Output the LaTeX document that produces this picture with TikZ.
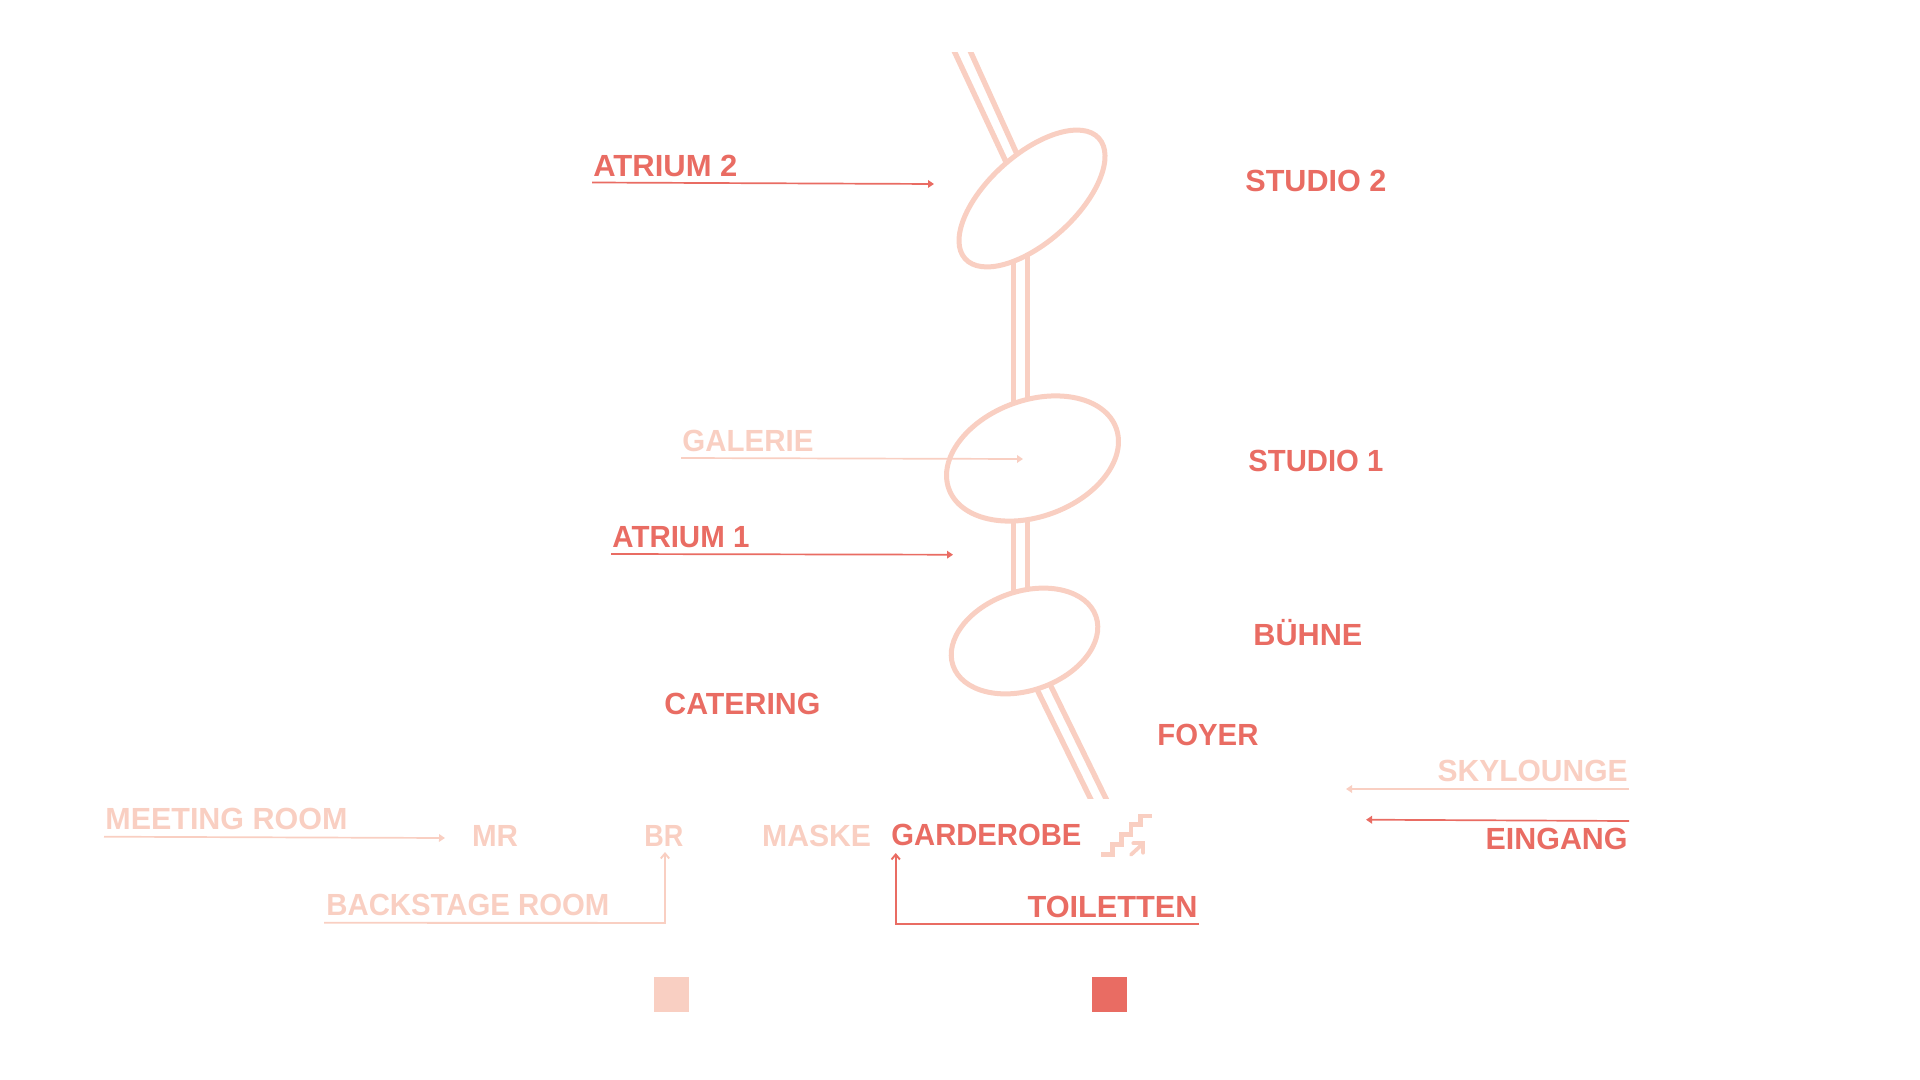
\documentclass[tikz,border=0pt]{standalone}
\usepackage{fontspec}
\setmainfont{Liberation Sans}
\usetikzlibrary{arrows.meta}
\definecolor{lite}{HTML}{F9CFC2}
\definecolor{dark}{HTML}{E96C63}
\newcommand{\fitw}[2]{\resizebox{#1pt}{\height}{#2}}
\tikzset{
  lbl/.style={inner sep=0pt,font=\fontsize{15.3}{18}\selectfont\bfseries},
  lft/.style={lbl,anchor=base west},
  rgt/.style={lbl,anchor=base east},
  rail/.style={lite,line width=2.7pt},
  hub/.style={draw=lite,line width=2.5pt,fill=white},
  lead/.style={line width=0.85pt,-{Triangle[length=3pt,width=3.8pt]}},
  elbow/.style={line width=0.95pt,-{Straight Barb[length=2.5pt,width=4.2pt]}},
  stair/.style={draw=lite,line width=2.4pt},
}
\begin{document}
\begin{tikzpicture}[x=0.5pt,y=-0.5pt]
\useasboundingbox (0,0) rectangle (1920,1080);
% rails
\begin{scope}
\clip (900,52.7) rectangle (1150,798.7);
\draw[rail] (949,40) -- (1010.7,172);
\draw[rail] (965.2,40) -- (1021,163);
\draw[rail] (1013.3,250) -- (1013.3,600);
\draw[rail] (1027.7,250) -- (1027.7,600);
\draw[rail] (1027.5,670) -- (1096,810);
\draw[rail] (1043,670) -- (1111.5,810);
\end{scope}
% hubs
\draw[hub] (1032,198.5) ellipse[x radius=90,y radius=43.7,rotate=42];
\draw[hub] (1032.5,458.5) ellipse[x radius=89,y radius=58.2,rotate=20];
\draw[hub] (1024.5,641) ellipse[x radius=75.6,y radius=49.5,rotate=19];
% labels
\node[lft,dark] (atr2) at (593,177) {\fitw{72}{ATRIUM 2}};
\node[lft,dark] (st2) at (1245,192) {\fitw{70.5}{STUDIO 2}};
\node[lft,lite] (gal) at (682,451) {\fitw{65.5}{GALERIE}};
\node[lft,dark] (st1) at (1248,471) {\fitw{67.5}{STUDIO 1}};
\node[lft,dark] (atr1) at (612,547) {\fitw{68.5}{ATRIUM 1}};
\node[lft,dark] (bue) at (1253,645) {\fitw{54.5}{BÜHNE}};
\node[lft,dark] (cat) at (664,714) {\fitw{78}{CATERING}};
\node[lft,dark] (foy) at (1157,745.5) {\fitw{50.5}{FOYER}};
\node[rgt,lite] (sky) at (1628,781.7) {\fitw{95}{SKYLOUNGE}};
\node[rgt,dark] (ein) at (1628,849.5) {\fitw{71}{EINGANG}};
\node[lft,lite] (meet) at (105,829) {\fitw{121}{MEETING ROOM}};
\node[lft,lite] (mr) at (471.7,846) {\fitw{23}{MR}};
\node[lft,lite] (br) at (644,846) {\fitw{19.5}{BR}};
\node[lft,lite] (mas) at (761.7,846) {\fitw{54.5}{MASKE}};
\node[lft,dark] (gar) at (891,845) {\fitw{95}{GARDEROBE}};
\node[lft,lite] (back) at (326,915) {\fitw{141.5}{BACKSTAGE ROOM}};
\node[rgt,dark] (toi) at (1198,917) {\fitw{85}{TOILETTEN}};
% leader anchors
\coordinate (a2s) at (592,182.5); \coordinate (a2e) at (934,184);
\coordinate (gs) at (681,458); \coordinate (ge) at (1023,459);
\coordinate (a1s) at (611,554); \coordinate (a1e) at (953,554.7);
\coordinate (ms) at (104,836.7); \coordinate (me) at (445,838);
\coordinate (ss) at (1629,789); \coordinate (se) at (1346,789);
\coordinate (es) at (1629,821); \coordinate (ee) at (1366,819.7);
\coordinate (bs) at (324,922.7); \coordinate (bk) at (665,923); \coordinate (be) at (665,852);
\coordinate (ts) at (1199,924); \coordinate (tk) at (895.7,924); \coordinate (te) at (895.7,853);
\draw[lead,dark] (a2s) -- (a2e);
\draw[lead,lite] (gs) -- (ge);
\draw[lead,dark] (a1s) -- (a1e);
\draw[lead,lite] (ms) -- (me);
\draw[lead,lite] (ss) -- (se);
\draw[lead,dark] (es) -- (ee);
\draw[elbow,lite] (bs) -- (bk) -- (be);
\draw[elbow,dark] (ts) -- (tk) -- (te);
% stairs icon
\draw[stair] (1101,854.3) -- (1112.7,854.3) -- (1112.7,844.3) -- (1121.7,844.3) -- (1121.7,834.3) -- (1131,834.3) -- (1131,824.3) -- (1140.7,824.3) -- (1140.7,816) -- (1152,816);
\draw[lite,line width=1.9pt,line cap=round] (1131,854.7) -- (1143.3,843.3);
\draw[lite,line width=1.9pt,line cap=round] (1133.3,843.3) -- (1143.3,843.3) -- (1143.3,852.7);
% legend
\fill[lite] (654,976.7) rectangle (688.7,1011.7);
\fill[dark] (1092,976.7) rectangle (1127,1011.7);
\end{tikzpicture}
\end{document}
